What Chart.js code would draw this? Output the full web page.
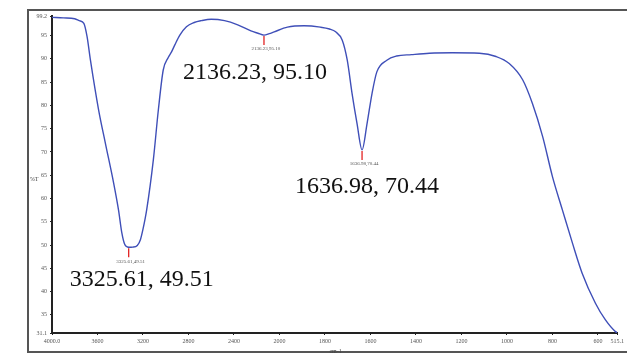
<!DOCTYPE html>
<html>
<head>
<meta charset="utf-8">
<script src="https://cdn.jsdelivr.net/npm/chart.js@4/dist/chart.umd.min.js"></script>
<style>
    html, body { margin: 0; padding: 0; background: #fff; }
    #wrap { width: 627px; height: 354px; }
</style>
</head>
<body>
<div id="wrap"><canvas id="ftirChart" width="627" height="354"></canvas></div>
<script>
// FTIR spectrum
const wavenumbers = [4000, 3900, 3800, 3760, 3720, 3692, 3662, 3590, 3531, 3458, 3415, 3386, 3360, 3325.61,
    3290, 3250, 3222, 3200, 3168, 3109, 3065, 3022, 2978, 2949, 2920, 2876, 2818, 2750, 2687, 2600, 2483, 2367,
    2251, 2190, 2136.23, 2090, 2046, 1965, 1892, 1820, 1780, 1753, 1724, 1702, 1681, 1659, 1636.98, 1615,
    1593, 1572, 1528, 1485, 1420, 1341, 1240, 1121, 1048, 990, 931, 888, 843, 800, 756, 712, 669, 611,
    567, 523, 515.1];
const transmittance = [98.9, 98.8, 98.6, 98.2, 97.6, 94.8, 89.7, 79.0, 71.9, 63.3, 57.5, 52.6, 50.1, 49.51,
    49.55, 49.9, 51.2, 53.4, 57.5, 68.3, 79.0, 87.6, 90.3, 91.5, 93.0, 95.1, 96.9, 97.8, 98.2, 98.5, 98.2, 97.3,
    96.0, 95.5, 95.10, 95.4, 95.8, 96.8, 97.1, 96.8, 96.4, 95.8, 94.0, 89.7, 82.6, 76.1, 70.44, 76.1,
    82.6, 87.2, 89.7, 90.6, 90.9, 91.2, 91.3, 91.2, 90.5, 89.0, 85.5, 80.4, 73.3, 64.7, 57.5, 50.4, 43.9,
    37.5, 33.9, 31.4, 31.2];

const peakWavenumbers = [3325.61, 2136.23, 1636.98];
const peakValues = [49.51, 95.10, 70.44];
const peakSmallLabels = ['3325.61,49.51', '2136.23,95.10', '1636.98,70.44'];
const peakBigLabels = ['3325.61, 49.51', '2136.23, 95.10', '1636.98, 70.44'];

const xTickValues = [4000, 3600, 3200, 2800, 2400, 2000, 1800, 1600, 1400, 1200, 1000, 800, 600, 515.1];
const xTickLabels = ['4000.0', '3600', '3200', '2800', '2400', '2000', '1800', '1600', '1400', '1200', '1000', '800', '600', '515.1'];
const yTickValues = [99.2, 95, 90, 85, 80, 75, 70, 65, 60, 55, 50, 45, 40, 35, 31.1];
const yTickLabels = ['99.2', '95', '90', '85', '80', '75', '70', '65', '60', '55', '50', '45', '40', '35', '31.1'];

// offsets of the big peak labels from the peak (layout only)
const bigLabelOffsets = [[13, 32], [-9, 38], [5, 37]];

// the instrument compresses the range above 2000 cm-1 by half
function toAxis(w) {
    return w <= 2000 ? w : 2000 + (w - 2000) / 2;
}

const framePlugin = {
    id: 'frame',
    beforeDraw(chart) {
        const c = chart.ctx;
        c.save();
        c.fillStyle = '#fff';
        c.fillRect(0, 0, chart.width, chart.height);
        c.strokeStyle = '#555';
        c.lineWidth = 2;
        c.strokeRect(28, 10, 620, 342);
        c.restore();
    },
    afterDraw(chart) {
        const c = chart.ctx;
        const xs = chart.scales.x, ys = chart.scales.y;
        c.save();
        // axis titles
        c.fillStyle = '#444';
        c.font = '6px "Liberation Serif"';
        c.textAlign = 'center';
        c.textBaseline = 'middle';
        c.fillText('%T', 34, (ys.top + ys.bottom) / 2 + 5);
        c.fillText('cm-1', (xs.left + xs.right) / 2 + 1, 351);
        // peak markers
        peakWavenumbers.forEach(function(w, i) {
            const px = xs.getPixelForValue(toAxis(w));
            const py = ys.getPixelForValue(peakValues[i]);
            c.strokeStyle = '#e01010';
            c.lineWidth = 1.2;
            c.beginPath();
            c.moveTo(px, py + 1);
            c.lineTo(px, py + 10);
            c.stroke();
            c.fillStyle = '#555';
            c.font = '5px "Liberation Serif"';
            c.fillText(peakSmallLabels[i], px + 2, py + 14);
            c.fillStyle = '#111';
            c.font = '24px "Liberation Serif"';
            c.fillText(peakBigLabels[i], px + bigLabelOffsets[i][0], py + bigLabelOffsets[i][1]);
        });
        c.restore();
    }
};

function createSpectrumChart() {
    const ctx = document.getElementById('ftirChart').getContext('2d');

    new Chart(ctx, {
        type: 'line',
        data: {
            datasets: [{
                data: wavenumbers.map(function(w, i) { return { x: toAxis(w), y: transmittance[i] }; }),
                borderColor: '#3f4fb8',
                borderWidth: 1.4,
                pointRadius: 0,
                fill: false,
                cubicInterpolationMode: 'monotone'
            }]
        },
        options: {
            responsive: false,
            animation: false,
            layout: {
                padding: { left: 0, right: 7, top: 16, bottom: 0 }
            },
            plugins: {
                legend: { display: false },
                tooltip: { enabled: false }
            },
            scales: {
                x: {
                    type: 'linear',
                    reverse: true,
                    min: toAxis(515.1),
                    max: toAxis(4000),
                    afterBuildTicks: function(scale) {
                        scale.ticks = xTickValues.map(function(v) { return { value: toAxis(v) }; });
                    },
                    afterFit: function(scale) { scale.height = 21; },
                    ticks: {
                        autoSkip: false,
                        maxRotation: 0,
                        padding: 3,
                        color: '#555',
                        font: { family: 'Liberation Serif', size: 6 },
                        callback: function(value, index) { return xTickLabels[index]; }
                    },
                    grid: { display: true, drawOnChartArea: false, tickLength: 2, color: '#222' },
                    border: { display: true, color: '#222', width: 2 }
                },
                y: {
                    type: 'linear',
                    min: 31.1,
                    max: 99.2,
                    afterBuildTicks: function(scale) {
                        scale.ticks = yTickValues.map(function(v) { return { value: v }; });
                    },
                    afterFit: function(scale) { scale.width = 52; },
                    ticks: {
                        autoSkip: false,
                        padding: 3,
                        color: '#555',
                        font: { family: 'Liberation Serif', size: 6 },
                        callback: function(value, index) { return yTickLabels[index]; }
                    },
                    grid: { display: true, drawOnChartArea: false, tickLength: 2, color: '#222' },
                    border: { display: true, color: '#222', width: 2 }
                }
            }
        },
        plugins: [framePlugin]
    });
}

document.addEventListener('DOMContentLoaded', createSpectrumChart);
</script>
</body>
</html>
